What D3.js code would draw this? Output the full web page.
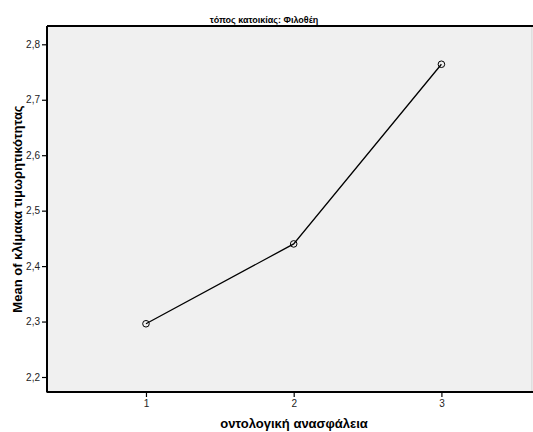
<!DOCTYPE html>
<html><head><meta charset="utf-8">
<script src="https://cdn.jsdelivr.net/npm/d3@7"></script>
<style>body{margin:0;background:#fff;}svg{display:block;}</style>
</head><body>
<svg id="c" width="533" height="432"></svg>
<script>
const categories = [1, 2, 3];
const means = [2.296, 2.440, 2.764];
const yTicks = [2.2, 2.3, 2.4, 2.5, 2.6, 2.7, 2.8];
const title = "τόπος κατοικίας: Φιλοθέη";
const xTitle = "οντολογική ανασφάλεια";
const yTitle = "Mean of κλίμακα τιμωρητικότητας";

const svg = d3.select("#c");
const L = 47, R = 532, T = 26, B = 392;
const x = d3.scaleLinear().domain([0.33, 3.62]).range([L, R + 1]);
const y = d3.scaleLinear().domain([2.2, 2.8]).range([377, 44.3]);

svg.append("rect").attr("x", L).attr("y", T).attr("width", R - L).attr("height", B - T).attr("fill", "#f0f0f0");
svg.append("line").attr("x1", R).attr("x2", R).attr("y1", T).attr("y2", B).attr("stroke", "#cfcfcf");

const fmt = d => d3.format(".1f")(d).replace(".", ",");
const ya = svg.append("g").attr("transform", `translate(${L},0)`)
  .call(d3.axisLeft(y).tickValues(yTicks).tickFormat(fmt).tickSize(5).tickPadding(2));
const xa = svg.append("g").attr("transform", `translate(0,${B})`)
  .call(d3.axisBottom(x).tickValues(categories).tickFormat(d3.format("d")).tickSize(5).tickPadding(3));
[ya, xa].forEach(a => {
  a.select(".domain").remove();
  a.selectAll("line").attr("stroke", "#000").attr("stroke-width", 1.2);
  a.selectAll("text").attr("font-family", "Arial, 'Liberation Sans', sans-serif").attr("font-size", 10).attr("fill", "#222");
});
svg.append("line").attr("x1", L).attr("x2", L).attr("y1", T).attr("y2", B + 0.5).attr("stroke", "#000").attr("stroke-width", 2);
svg.append("line").attr("x1", L).attr("x2", R + 1).attr("y1", B).attr("y2", B).attr("stroke", "#000").attr("stroke-width", 2);
svg.append("line").attr("x1", L).attr("x2", R + 1).attr("y1", T).attr("y2", T).attr("stroke", "#000").attr("stroke-width", 2);

const pts = categories.map((c, i) => [c, means[i]]);
svg.append("path").datum(pts)
  .attr("d", d3.line().x(d => x(d[0])).y(d => y(d[1])))
  .attr("fill", "none").attr("stroke", "#000").attr("stroke-width", 1.3);
svg.selectAll("circle.p").data(pts).enter().append("circle")
  .attr("cx", d => x(d[0])).attr("cy", d => y(d[1])).attr("r", 3.3)
  .attr("fill", "none").attr("stroke", "#000").attr("stroke-width", 1);

svg.append("text").attr("x", 264).attr("y", 23).attr("text-anchor", "middle")
  .attr("font-family", "Arial, 'Liberation Sans', sans-serif").attr("font-size", 9).attr("font-weight", "bold").text(title);
svg.append("text").attr("x", 294).attr("y", 428).attr("text-anchor", "middle")
  .attr("font-family", "Arial, 'Liberation Sans', sans-serif").attr("font-size", 13).attr("font-weight", "bold").text(xTitle);
svg.append("text").attr("transform", `translate(22,209) rotate(-90)`).attr("text-anchor", "middle")
  .attr("font-family", "Arial, 'Liberation Sans', sans-serif").attr("font-size", 13).attr("font-weight", "bold").text(yTitle);
</script>
</body></html>
